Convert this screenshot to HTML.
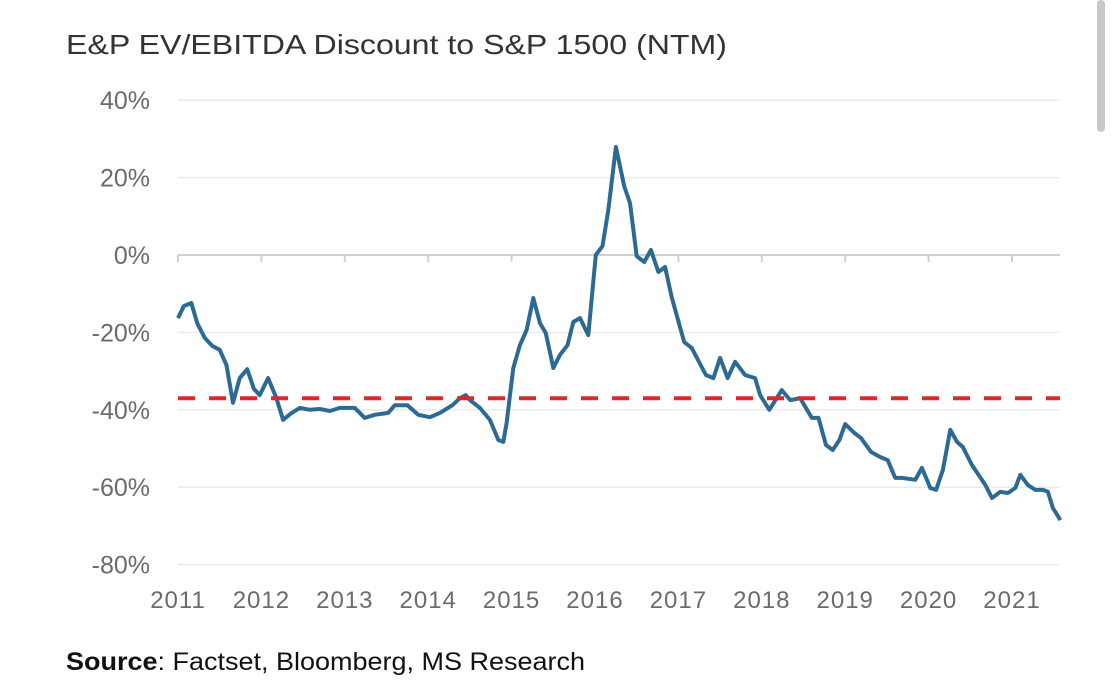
<!DOCTYPE html>
<html><head><meta charset="utf-8"><style>
body{margin:0;background:#fff;width:1117px;height:691px;overflow:hidden;font-family:"Liberation Sans",sans-serif}
</style></head><body>
<svg id="chart" width="1117" height="691" xmlns="http://www.w3.org/2000/svg">
<text x="66" y="54" font-size="28" fill="#333" font-family="Liberation Sans, sans-serif" textLength="661" lengthAdjust="spacingAndGlyphs">E&amp;P EV/EBITDA Discount to S&amp;P 1500 (NTM)</text>
<rect x="1097" y="0" width="8" height="132" rx="4" fill="#c8c8c8"/>
<g id="grid"></g><g id="axes"></g><g id="series"></g>
<text x="66" y="670" font-size="25" fill="#111" font-family="Liberation Sans, sans-serif" textLength="519" lengthAdjust="spacingAndGlyphs"><tspan font-weight="bold">Source</tspan>: Factset, Bloomberg, MS Research</text>
</svg>
<script>
const yTicks=[40,20,0,-20,-40,-60,-80];
const xTickYears=[2011,2012,2013,2014,2015,2016,2017,2018,2019,2020,2021];
const avgLine=-37;
const dates=[2011.0,2011.07,2011.16,2011.23,2011.32,2011.41,2011.5,2011.58,2011.66,2011.74,2011.83,2011.91,2011.98,2012.08,2012.18,2012.26,2012.35,2012.46,2012.58,2012.7,2012.82,2012.94,2013.12,2013.24,2013.36,2013.52,2013.6,2013.75,2013.88,2014.02,2014.14,2014.29,2014.38,2014.45,2014.5,2014.62,2014.74,2014.84,2014.9,2014.94,2015.02,2015.1,2015.18,2015.26,2015.34,2015.41,2015.5,2015.58,2015.67,2015.74,2015.82,2015.92,2016.01,2016.09,2016.16,2016.25,2016.35,2016.42,2016.5,2016.59,2016.67,2016.76,2016.84,2016.92,2017.07,2017.16,2017.33,2017.42,2017.5,2017.59,2017.68,2017.8,2017.92,2017.98,2018.09,2018.24,2018.34,2018.46,2018.6,2018.68,2018.77,2018.85,2018.93,2019.0,2019.11,2019.19,2019.31,2019.42,2019.51,2019.6,2019.68,2019.84,2019.92,2020.02,2020.09,2020.17,2020.26,2020.34,2020.41,2020.52,2020.68,2020.76,2020.86,2020.95,2021.04,2021.1,2021.19,2021.28,2021.37,2021.43,2021.49,2021.58];
const values=[-16.3,-13.2,-12.4,-17.6,-21.4,-23.5,-24.5,-28.4,-38.2,-31.8,-29.5,-34.6,-36.2,-31.8,-37,-42.6,-41,-39.5,-40,-39.8,-40.3,-39.5,-39.5,-42.1,-41.3,-40.8,-38.8,-38.8,-41.3,-41.9,-40.8,-38.8,-37,-36.2,-37.5,-39.5,-42.6,-47.8,-48.3,-43.4,-29.2,-23.3,-19.4,-11.1,-17.6,-20.2,-29.2,-25.8,-23.3,-17.3,-16.3,-20.7,0,2.3,11.6,27.9,17.8,13.4,-0.3,-1.8,1.3,-4.4,-3.1,-10.9,-22.5,-24,-31,-31.8,-26.6,-31.8,-27.6,-31,-31.8,-36.2,-40,-34.9,-37.5,-37,-42.1,-42.1,-49.1,-50.4,-47.8,-43.7,-46,-47.3,-50.9,-52.2,-53,-57.6,-57.6,-58.1,-55,-60.2,-60.7,-55.6,-45.2,-48.3,-49.6,-54.3,-59.4,-62.8,-61.2,-61.5,-60.2,-56.8,-59.4,-60.7,-60.7,-61.2,-65.4,-68.5];
const NS="http://www.w3.org/2000/svg";
const X0=178,X1=1060;
const xs=d=>178+(d-2011)*83.4;
const ys=v=>255-v*3.87;
function mk(tag,attrs,parent,text){const e=document.createElementNS(NS,tag);for(const k in attrs)e.setAttribute(k,attrs[k]);if(text!==undefined)e.textContent=text;document.getElementById(parent).appendChild(e);return e;}
yTicks.forEach(t=>{
  const g=mk('line',{x1:X0,x2:X1,y1:ys(t),y2:ys(t),stroke:t===0?'#d0d0d0':'#ebebeb','stroke-width':t===0?2:1.5},'grid');
  
  
  const l=mk('text',{x:150,y:ys(t)+9,'text-anchor':'end','font-size':25,fill:'#6b6b6b','font-family':'Liberation Sans, sans-serif'},'axes',t+'%');
  
  
});
xTickYears.forEach(y=>{
  const tk=mk('line',{x1:xs(y),x2:xs(y),y1:255,y2:262,stroke:'#d0d0d0','stroke-width':2},'axes');
  
  
  const l=mk('text',{x:xs(y),y:608,'text-anchor':'middle','font-size':24,fill:'#6b6b6b','font-family':'Liberation Sans, sans-serif','letter-spacing':'1'},'axes',String(y));
  
  
});
const d=dates.map((t,i)=>(i?'L':'M')+xs(t).toFixed(1)+','+ys(values[i]).toFixed(1)).join(' ');
const p=mk('path',{d:d,fill:'none',stroke:'#2c6a94','stroke-width':4,'stroke-linejoin':'round'},'series');


const a=mk('line',{x1:X0,x2:X1,y1:ys(avgLine),y2:ys(avgLine),stroke:'#d8292b','stroke-width':4,'stroke-dasharray':'17 14'},'series');


</script>
</body></html>
